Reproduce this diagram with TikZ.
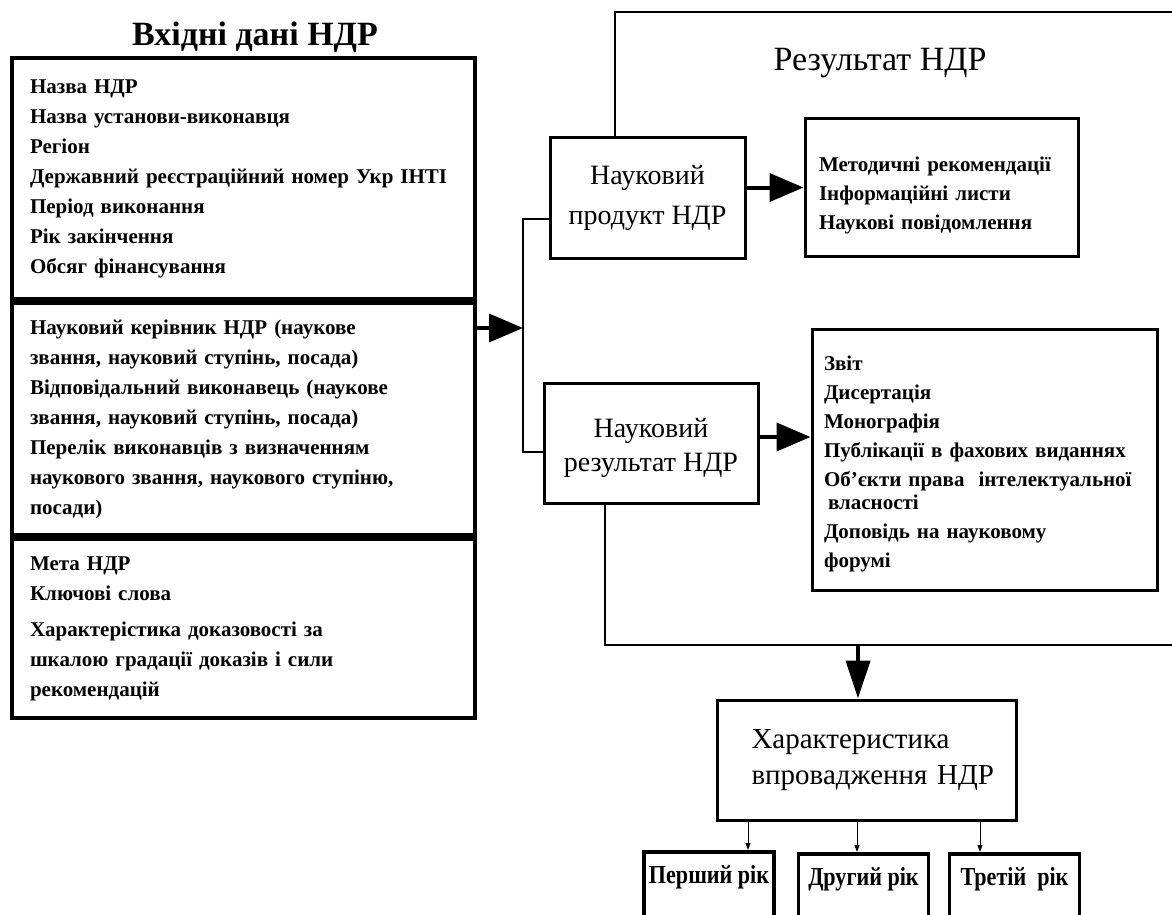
\documentclass[tikz,border=0pt]{standalone}
\usepackage{fontspec}
\setmainfont{Liberation Serif}
\newfontfamily\narrowserif[FakeStretch=0.85]{Liberation Serif}
\usetikzlibrary{arrows.meta}

\begin{document}
\begin{tikzpicture}[x=1pt, y=-1pt,
  inbox/.style={draw, line width=4pt, text width=427pt, inner xsep=18pt, align=left, font=\bfseries\fontsize{21}{30}\selectfont},
  resbox/.style={draw, line width=3pt, align=center, font=\fontsize{28}{34}\selectfont},
  listbox/.style={draw, line width=3pt, align=left, font=\bfseries\fontsize{21}{29}\selectfont},
  yearbox/.style={draw, line width=3.5pt, anchor=north, minimum width=130pt, inner xsep=1pt, inner ysep=2pt, text height=30pt, text depth=70pt, font=\narrowserif\bfseries\fontsize{26}{30}\selectfont},
  rimline/.style={line width=2pt},
  bigarrow/.style={line width=4pt, -{Triangle[length=34pt,width=28pt]}},
  smallarrow/.style={line width=1pt, -{Triangle[length=7pt,width=5pt]}}]

\useasboundingbox (0,0) rectangle (1172,915);
\clip (0,0) rectangle (1172,915);

% input data
\node (title) at (255, 37) [font=\bfseries\fontsize{34}{40}\selectfont] {Вхідні дані НДР};

\node (sec1) at (10, 56) [inbox, anchor=north west, minimum height=241pt] {Назва НДР\\Назва установи-виконавця\\Регіон\\Державний реєстраційний номер Укр ІНТІ\\Період виконання\\Рік закінчення\\Обсяг фінансування};
\node (sec2) at (sec1.south) [inbox, anchor=north, minimum height=232pt] {Науковий керівник НДР (наукове\\звання, науковий ступінь, посада)\\Відповідальний виконавець (наукове\\звання, науковий ступінь, посада)\\Перелік виконавців з визначенням\\наукового звання, наукового ступіню,\\посади)};
\node (sec3) at (sec2.south) [inbox, anchor=north, minimum height=179pt] {Мета НДР\\Ключові слова\\[6pt]Характерістика доказовості за\\шкалою градації доказів і сили\\рекомендацій};

% results
\node (restitle) at (880, 63) [font=\fontsize{34}{40}\selectfont] {Результат НДР};

\node (prod) at (647.5, 198) [resbox, minimum width=195pt, minimum height=120pt] {Науковий\\[6pt]продукт НДР};
\node (res) at (651, 443) [resbox, minimum width=214pt, minimum height=120pt] {\rule{0pt}{30pt}Науковий\\результат НДР};

\node (meth) at (941.5, 187.5) [listbox, minimum width=273pt, minimum height=137pt, text width=245pt] {\rule{0pt}{30pt}Методичні рекомендації\\Інформаційні листи\\Наукові повідомлення};
\node (list) at (984.5, 459.5) [listbox, minimum width=345pt, minimum height=261pt, text width=321pt] {\rule{0pt}{24pt}Звіт\\Дисертація\\Монографія\\Публікації в фахових виданнях\\Об'єкти права~ інтелектуальної\\[-6pt]\hspace*{4pt}власності\\Доповідь на науковому\\форумі};

% implementation
\node (char) at (866.5, 760) [resbox, align=left, minimum width=299pt, minimum height=120pt, text width=262pt, font=\fontsize{29}{36}\selectfont] {\hspace*{16pt}Характеристика\\\hspace*{16pt}впровадження НДР};

\node (yr1) at (709, 850) [yearbox] {Перший рік};
\node (yr2) at (863.5, 852) [yearbox] {Другий рік};
\node (yr3) at (1014.5, 852) [yearbox] {Третій~ рік};

\coordinate (join) at (523, 328);
\coordinate (rimtop) at (615, 12);
\coordinate (rimtopend) at (1180, 12);
\coordinate (rimbot) at (605, 645);
\coordinate (rimbotend) at (1180, 645);
\coordinate (split) at (858, 645);

\draw[bigarrow] (sec2.east |- join) -- (join);
\draw[rimline] ([yshift=-21pt]prod.west) -| (join) |- ([yshift=-9pt]res.west);

\draw[bigarrow] (prod.east |- meth.west) -- (meth.west);
\draw[bigarrow] ([yshift=6pt]res.east) -- ([yshift=6pt]res.east -| list.west);

\draw[rimline] (rimtop |- prod.north) -- (rimtop) -- (rimtopend);
\draw[rimline] (rimbot |- res.south) -- (rimbot) -- (rimbotend);

\draw[bigarrow, -{Triangle[length=38pt,width=24pt]}] (split) -- (split |- char.north);

\draw[smallarrow] ([xshift=39pt]yr1.north |- char.south) -- ([xshift=39pt]yr1.north);
\draw[smallarrow] ([xshift=-6.5pt]yr2.north |- char.south) -- ([xshift=-6.5pt]yr2.north);
\draw[smallarrow] ([xshift=-34.5pt]yr3.north |- char.south) -- ([xshift=-34.5pt]yr3.north);

\end{tikzpicture}
\end{document}
